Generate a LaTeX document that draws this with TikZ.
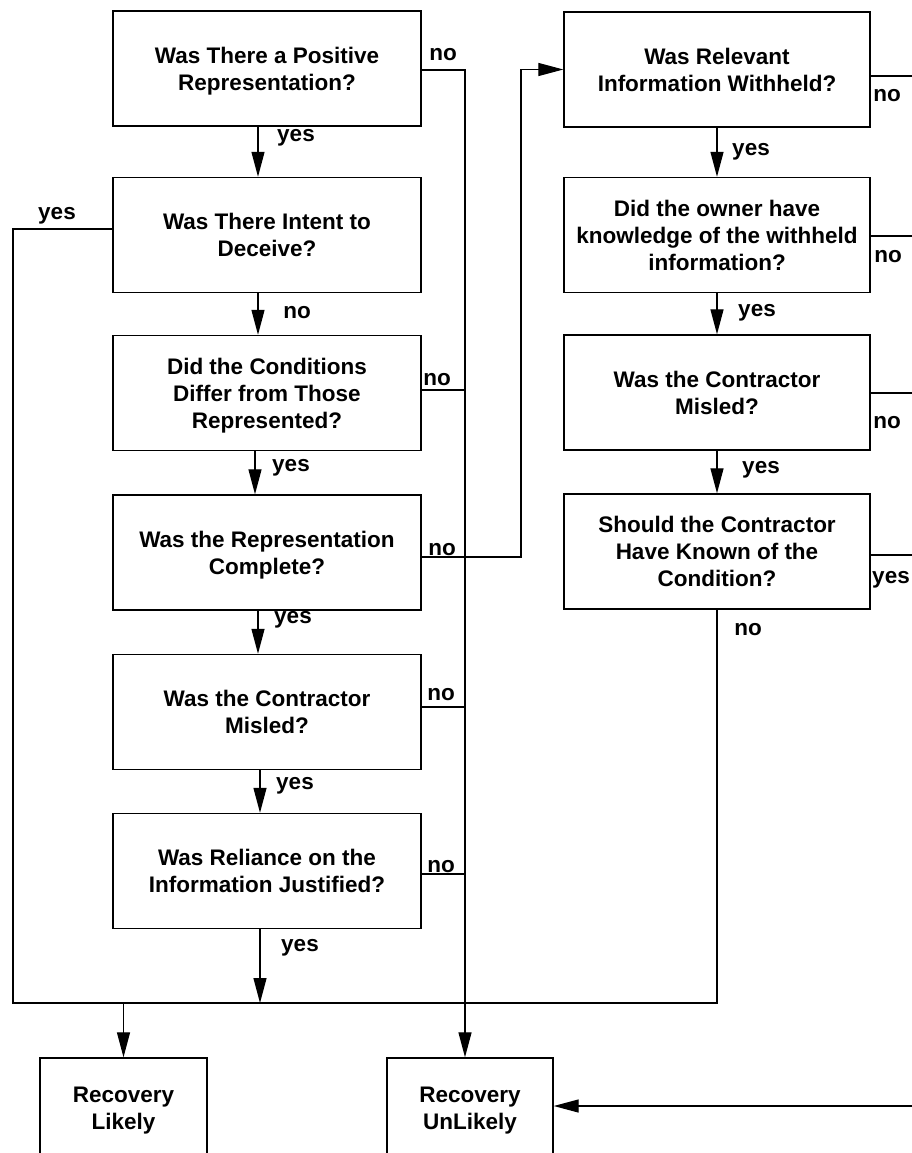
\documentclass[tikz,border=0pt]{standalone}
\usepackage{fontspec}
\setmainfont{Liberation Sans}
\usetikzlibrary{arrows.meta}
\begin{document}
\begin{tikzpicture}[x=1pt,y=-1pt,
  line width=1.3pt,
  q/.style={draw, line width=1.4pt, minimum width=308pt, minimum height=115pt,
    inner sep=0pt, text depth=0pt, align=center, font=\fontsize{22.5}{27}\selectfont\bfseries},
  qr/.style={q, minimum width=306pt},
  endbox/.style={q, minimum width=167pt, minimum height=100pt},
  lbl/.style={anchor=base, inner sep=0pt, font=\fontsize{22.5}{27}\selectfont\bfseries},
  arr/.style={-{Triangle[length=25pt,width=13pt]}},
]
\useasboundingbox (0,0) rectangle (912,1153);
\clip (0,0) rectangle (912,1153);

% left column of questions
\node[q] (b1) at (267,68.5) {Was There a Positive\\Representation?};
\node[q] (b2) at (267,235) {Was There Intent to\\Deceive?};
\node[q] (b3) at (267,393) {Did the Conditions\\Differ from Those\\Represented?};
\node[q] (b4) at (267,552.5) {Was the Representation\\Complete?};
\node[q] (b5) at (267,712) {Was the Contractor\\Misled?};
\node[q] (b6) at (267,871) {Was Reliance on the\\Information Justified?};

% right column of questions
\node[qr] (r1) at (717,69.5) {Was Relevant\\Information Withheld?};
\node[qr] (r2) at (717,235) {Did the owner have\\knowledge of the withheld\\information?};
\node[qr] (r3) at (717,392.5) {Was the Contractor\\Misled?};
\node[qr] (r4) at (717,551.5) {Should the Contractor\\Have Known of the\\Condition?};

% outcomes
\node[endbox] (lk) at (123.5,1108) {Recovery\\Likely};
\node[endbox, minimum width=166pt] (ul) at (470,1108) {Recovery\\UnLikely};

% junction points
\coordinate (a1) at (258,0);
\coordinate (a3) at (255,0);
\coordinate (a5) at (260,0);
\coordinate (bl) at (13,1003);
\coordinate (lyes) at (13,229);
\coordinate (nb) at (465,70);
\coordinate (n3) at (465,390);
\coordinate (n5) at (465,707);
\coordinate (n6) at (465,874);
\coordinate (k) at (521,557);
\coordinate (o1) at (912,76);
\coordinate (o2) at (912,236);
\coordinate (o3) at (912,393);
\coordinate (o4) at (912,555);
\coordinate (o5) at (912,1106);

% "yes" path down the left column
\draw[arr] (b1.south -| a1) -- (b2.north -| a1);
\draw[arr] (b2.south -| a1) -- (b3.north -| a1);
\draw[arr] (b3.south -| a3) -- (b4.north -| a3);
\draw[arr] (b4.south -| a1) -- (b5.north -| a1);
\draw[arr] (b5.south -| a5) -- (b6.north -| a5);
\draw[arr] (b6.south -| a5) -- (a5 |- bl);

% collecting line to "Recovery Likely"
\draw (b2.west |- lyes) -- (lyes) -- (bl) -- (r4.south |- bl) -- (r4.south);
\draw[arr] (lk.north |- bl) -- (lk.north);

% "no" bus to "Recovery UnLikely"
\draw[arr] (b1.east |- nb) -- (nb) -- (nb |- ul.north);
\draw (b3.east |- n3) -- (n3);
\draw (b5.east |- n5) -- (n5);
\draw (b6.east |- n6) -- (n6);

% incomplete representation leads to the right column
\draw[arr] (b4.east |- k) -- (k) -- (k |- r1.west) -- (r1.west);

% right column
\draw[arr] (r1.south) -- (r2.north);
\draw[arr] (r2.south) -- (r3.north);
\draw[arr] (r3.south) -- (r4.north);
\draw (r1.east |- o1) -- (o1);
\draw (r2.east |- o2) -- (o2);
\draw (r3.east |- o3) -- (o3);
\draw (r4.east |- o4) -- (o4);
\draw[arr] (o5) -- (ul.east |- o5);

% branch labels
\node[lbl] (t1) at (443,61) {no};
\node[lbl] (t2) at (296,142) {yes};
\node[lbl] (t3) at (57,219) {yes};
\node[lbl] (t4) at (297,318) {no};
\node[lbl] (t5) at (437,385) {no};
\node[lbl] (t6) at (291,471) {yes};
\node[lbl] (t7) at (442,555) {no};
\node[lbl] (t8) at (293,623) {yes};
\node[lbl] (t9) at (441,700) {no};
\node[lbl] (t10) at (295,789) {yes};
\node[lbl] (t11) at (441,872) {no};
\node[lbl] (t12) at (300,951) {yes};
\node[lbl] (u1) at (887,102) {no};
\node[lbl] (u2) at (751,155) {yes};
\node[lbl] (u3) at (888,262) {no};
\node[lbl] (u4) at (757,316) {yes};
\node[lbl] (u5) at (887,428) {no};
\node[lbl] (u6) at (761,473) {yes};
\node[lbl] (u7) at (891,583) {yes};
\node[lbl] (u8) at (748,635) {no};
\end{tikzpicture}
\end{document}
